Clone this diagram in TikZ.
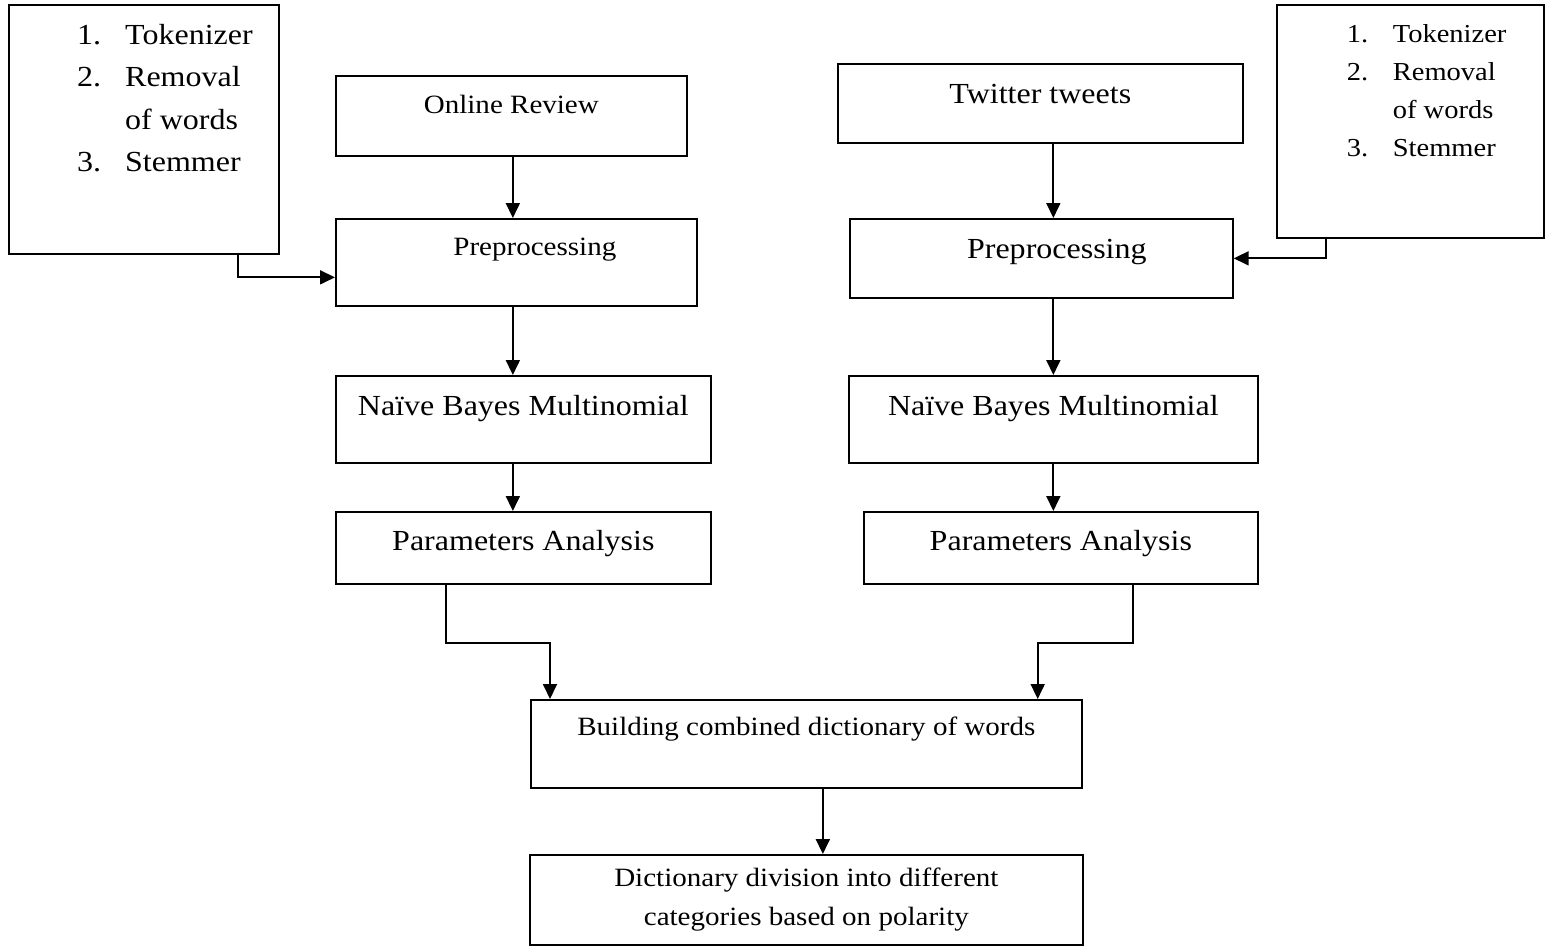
\documentclass[tikz,border=0pt]{standalone}
\usepackage{fontspec}
\setmainfont{Liberation Serif}[FakeStretch=1.1]
\usepackage{tikz}
\usetikzlibrary{arrows.meta}

\begin{document}
\begin{tikzpicture}[x=1pt,y=-1pt,
    stage/.style={draw,line width=1.7pt,inner sep=0pt,anchor=north west},
    steplist/.style={anchor=base west,inner sep=0pt},
    flow/.style={line width=1.8pt,-{Triangle[length=15pt,width=14pt]}}]
  \def\bigsize{\fontsize{29.1pt}{35pt}\selectfont}
  \def\smallsize{\fontsize{26.4pt}{39pt}\selectfont}
  \useasboundingbox (0,0) rectangle (1546,945);

  % preprocessing steps
  \node[stage,minimum width=270pt,minimum height=249pt] (toolsL) at (8,4) {};
  \node[steplist,font=\fontsize{29.1pt}{42.5pt}\selectfont] (itemsL) at (77,44.3)
    {\begin{tabular}[t]{@{}l@{\hspace{24pt}}l@{}}1.&Tokenizer\\2.&Removal\\&of words\\3.&Stemmer\end{tabular}};
  \node[stage,minimum width=267pt,minimum height=233pt] (toolsR) at (1276,4) {};
  \node[steplist,font=\fontsize{25.9pt}{38pt}\selectfont] (itemsR) at (1346.7,42.7)
    {\begin{tabular}[t]{@{}l@{\hspace{24.6pt}}l@{}}1.&Tokenizer\\2.&Removal\\&of words\\3.&Stemmer\end{tabular}};

  \node[stage,font=\smallsize,minimum width=351pt,text height=38pt,text depth=42pt] (online) at (335,75) {Online Review};
  \node[stage,font=\smallsize,minimum width=361pt,text height=37pt,text depth=50pt] (preL) at (335,218) {\hspace*{37pt}Preprocessing};
  \node[stage,font=\bigsize,minimum width=375pt,text height=40pt,text depth=47pt] (nbL) at (335,375) {Naïve Bayes Multinomial};
  \node[stage,font=\bigsize,minimum width=375pt,text height=39pt,text depth=33pt] (paL) at (335,511) {Parameters Analysis};

  \node[stage,font=\bigsize,minimum width=405pt,text height=40pt,text depth=39pt] (twitter) at (837,63) {Twitter tweets};
  \node[stage,font=\bigsize,minimum width=383pt,text height=40pt,text depth=39pt] (preR) at (849,218) {\hspace*{31pt}Preprocessing};
  \node[stage,font=\bigsize,minimum width=409pt,text height=40pt,text depth=47pt] (nbR) at (848,375) {Naïve Bayes Multinomial};
  \node[stage,font=\bigsize,minimum width=394pt,text height=39pt,text depth=33pt] (paR) at (863,511) {Parameters Analysis};

  \node[stage,font=\smallsize,minimum width=551pt,text height=36pt,text depth=52pt] (build) at (530,699) {Building combined dictionary of words};
  \node[stage,font=\smallsize,align=center,minimum width=553pt,minimum height=90pt] (dict) at (529,854)
    {Dictionary division into different\\categories based on polarity};

  \draw[flow] ([xshift=1.5pt]online.south) -- ([xshift=1.5pt]online.south |- preL.north);
  \draw[flow] ([xshift=-41.5pt]toolsL.south east) |- ([yshift=-15pt]preL.west);
  \draw[flow] ([xshift=-3.5pt]preL.south) -- ([xshift=-3.5pt]preL.south |- nbL.north);
  \draw[flow] ([xshift=-10.5pt]nbL.south) -- ([xshift=-10.5pt]paL.north);

  \draw[flow] ([xshift=13pt]twitter.south) -- ([xshift=13pt]twitter.south |- preR.north);
  \draw[flow] ([xshift=49.7pt]toolsR.south west) |- (preR.east);
  \draw[flow] (nbR.north |- preR.south) -- (nbR.north);
  \draw[flow] (nbR.south) -- (nbR.south |- paR.north);

  \draw[flow] ([xshift=-77.5pt]paL.south) -- ++(0,58) -| ([xshift=20pt]build.north west);
  \draw[flow] ([xshift=72pt]paR.south) -- ++(0,58) -| ([xshift=-45pt]build.north east);
  \draw[flow] ([xshift=16.5pt]build.south) -- ([xshift=16.5pt]build.south |- dict.north);
\end{tikzpicture}
\end{document}
